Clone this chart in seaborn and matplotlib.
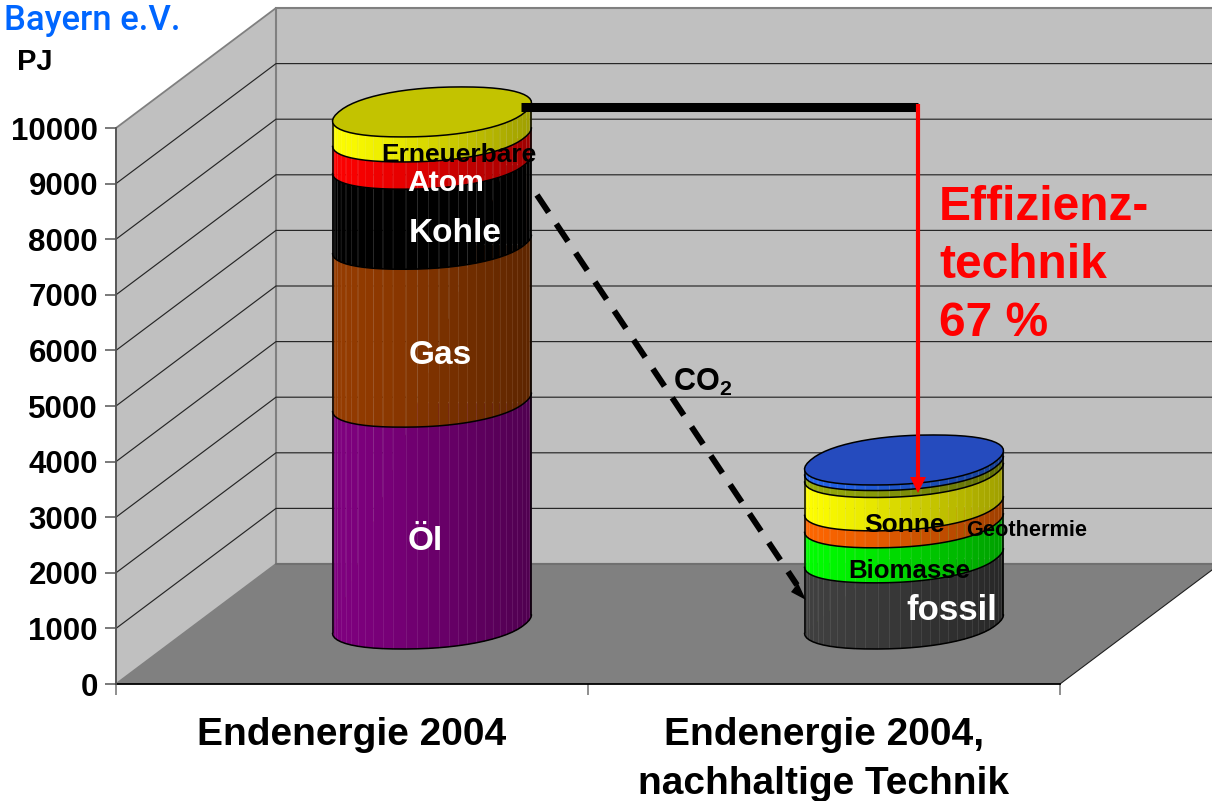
#!/usr/bin/env python3

from matplotlib import pyplot as plt
from matplotlib.colors import to_rgb
from matplotlib.patches import Polygon
import numpy as np
import pandas as pd
import seaborn as sns

# values (PJ)
categories = ["Endenergie 2004", "Endenergie 2004,\nnachhaltige Technik"]
layers_2004 = ["Öl", "Gas", "Kohle", "Atom", "Erneuerbare"]
values_2004 = [3990, 2840, 1440, 490, 450]
layers_eff = ["fossil", "Biomasse", "Geothermie", "Sonne", "Wind", "Wasser"]
values_eff = [1190, 630, 305, 600, 125, 100]
yticks = list(range(0, 11000, 1000))

colors_2004 = ["#800080", "#963C00", "#000000", "#FF0000", "#FFFF00"]
colors_eff = ["#404040", "#00FF00", "#FF6600", "#FFFF00", "#96AA0A", "#2464EB"]
top_2004 = "#C3C300"
top_eff = "#254BBE"

W, H = 1212, 801
PX_X = 472.0   # pixels per category
PX_Y = 0.0556  # pixels per PJ
DEPTH_X = 160 / PX_X
DEPTH_Y = 120 / PX_Y
HALF_W, HALF_H = 99.5, 25.0
SQUARE = 0.9   # <1 squares off the cylinder outline, like the original facets
N_FACETS = 30


def offsets(t):
    c, s = np.cos(t), np.sin(t)
    c = np.sign(c) * np.abs(c) ** SQUARE
    s = np.sign(s) * np.abs(s) ** SQUARE
    return 0.95 * c + 0.3 * s, s


_grid = np.linspace(0, 2 * np.pi, 2000)
_scale = np.abs(offsets(_grid)[0]).max()
T_LEFT = _grid[np.argmin(offsets(_grid)[0])]
T_RIGHT = _grid[np.argmax(offsets(_grid)[0])] + 2 * np.pi


def ring(t, cat, value):
    dx, dy = offsets(t)
    x = cat + DEPTH_X / 2 + dx / _scale * HALF_W / PX_X
    y = value + DEPTH_Y / 2 + dy * HALF_H / PX_Y
    return x, y


def shade(color, u):
    return np.array(to_rgb(color)) * np.interp(u, [0, 0.3, 1], [1.0, 0.92, 0.62])


def draw_cylinder(ax, cat, values, colors, top_color, bars):
    front = np.linspace(T_LEFT, T_RIGHT, N_FACETS + 1)
    full = np.linspace(0, 2 * np.pi, 2 * N_FACETS + 1)
    cum = np.concatenate([[0], np.cumsum(values)])

    bx, by = ring(front, cat, 0)
    top_x, top_y = ring(full, cat, cum[-1])
    outline = Polygon(
            np.r_[np.c_[bx, by], np.c_[top_x, top_y]],
            transform=ax.transData,
            )
    for bar in bars:
        bar.set_clip_path(outline)

    for i, color in enumerate(colors):
        for j in range(N_FACETS):
            t = front[j:j + 2]
            x0, y0 = ring(t, cat, cum[i])
            x1, y1 = ring(t[::-1], cat, cum[i + 1])
            u = (x0.mean() - bx[0]) / (bx[-1] - bx[0])
            ax.add_patch(Polygon(
                np.r_[np.c_[x0, y0], np.c_[x1, y1]],
                facecolor=shade(color, u),
                edgecolor=shade(color, u),
                lw=0.2, zorder=4, clip_on=False,
                ))
            ax.plot(
                    [x0[0], x1[1]], [y0[0], y1[1]],
                    color="white", alpha=0.1, lw=0.6, zorder=4.5,
                    clip_on=False,
                    )
        x0, y0 = ring(front, cat, cum[i])
        ax.plot(x0, y0, color="black", lw=1.1, zorder=5, clip_on=False)

    tx, ty = ring(front, cat, cum[-1])
    ax.plot(
            [bx[0], tx[0]], [by[0], ty[0]],
            color="black", lw=1.1, zorder=5, clip_on=False,
            )
    ax.plot(
            [bx[-1], tx[-1]], [by[-1], ty[-1]],
            color="black", lw=1.1, zorder=5, clip_on=False,
            )
    ax.add_patch(Polygon(
        np.c_[top_x, top_y], facecolor=top_color, edgecolor="black",
        lw=1.1, zorder=6, clip_on=False,
        ))


def main():
    sns.set_theme(style="white")
    plt.rcParams["font.family"] = ["Liberation Sans", "DejaVu Sans"]
    plt.rcParams["text.color"] = "black"
    plt.rcParams["mathtext.fontset"] = "custom"
    plt.rcParams["mathtext.bf"] = "Liberation Sans:bold"

    fig = plt.figure(figsize=(W / 100, H / 100), dpi=100)
    ax = fig.add_axes([116 / W, (H - 684) / H, 944 / W, 556 / H])
    ax.patch.set_alpha(0)

    # stacked base bars, tallest layer first
    rows = []
    pos = [DEPTH_X / 2, 1 + DEPTH_X / 2]
    for p, layers, values, colors in [
            (pos[0], layers_2004, values_2004, colors_2004),
            (pos[1], layers_eff, values_eff, colors_eff),
            ]:
        cum = np.cumsum(values)
        for layer, c, col in list(zip(layers, cum, colors))[::-1]:
            rows.append({
                "pos": p, "top": c + DEPTH_Y / 2,
                "layer": f"{p}-{layer}", "col": col,
                })
    df = pd.DataFrame(rows)
    sns.barplot(
            data=df, x="pos", y="top", hue="layer",
            hue_order=list(df["layer"]),
            palette=dict(zip(df["layer"], df["col"])),
            dodge=False, native_scale=True, width=199 / PX_X,
            legend=False, errorbar=None, ax=ax, saturation=1, zorder=3,
            )
    bars = [b for b in ax.patches]
    n_first = len(layers_2004)

    ax.set_xlim(-0.5, 1.5)
    ax.set_ylim(0, 10000)

    # walls and floor
    x0, x1 = -0.5, 1.5
    ax.add_patch(Polygon(
        [(x0, 0), (x0 + DEPTH_X, DEPTH_Y), (x0 + DEPTH_X, 10000 + DEPTH_Y), (x0, 10000)],
        facecolor="#C0C0C0", edgecolor="#808080", lw=1.3, zorder=0, clip_on=False,
        ))
    ax.add_patch(Polygon(
        [(x0 + DEPTH_X, DEPTH_Y), (x1 + DEPTH_X, DEPTH_Y),
         (x1 + DEPTH_X, 10000 + DEPTH_Y), (x0 + DEPTH_X, 10000 + DEPTH_Y)],
        facecolor="#C0C0C0", edgecolor="#808080", lw=1.5, zorder=0, clip_on=False,
        ))
    ax.add_patch(Polygon(
        [(x0, 0), (x1, 0), (x1 + DEPTH_X, DEPTH_Y), (x0 + DEPTH_X, DEPTH_Y)],
        facecolor="#808080", edgecolor="none", zorder=1, clip_on=False,
        ))
    ax.plot(
            [x1, x1 + DEPTH_X], [0, DEPTH_Y],
            color="#202020", lw=0.8, zorder=1.5, clip_on=False,
            )
    ax.plot(
            [x0 + DEPTH_X, x1 + DEPTH_X], [DEPTH_Y, DEPTH_Y],
            color="#707070", lw=1.5, zorder=1.5, clip_on=False,
            )
    for v in yticks[1:-1]:
        ax.plot(
                [x0, x0 + DEPTH_X, x1 + DEPTH_X],
                [v, v + DEPTH_Y, v + DEPTH_Y],
                color="#262626", lw=0.85, zorder=0.5, clip_on=False,
                )

    draw_cylinder(ax, 0, values_2004, colors_2004, top_2004, bars[:n_first])
    draw_cylinder(ax, 1, values_eff, colors_eff, top_eff, bars[n_first:])

    # axes
    sns.despine(ax=ax, top=True, right=True)
    ax.spines["left"].set(color="#555555", linewidth=1.3)
    ax.spines["bottom"].set(color="black", linewidth=1.3, zorder=2)
    ax.set_xlabel("")
    ax.set_ylabel("")
    ax.set_yticks(yticks)
    ax.tick_params(
            axis="y", left=True, length=8, width=1.1, color="#555555", pad=5,
            labelsize=22.5, labelcolor="black",
            )
    for label in ax.get_yticklabels():
        label.set_fontweight("bold")
    ax.set_xticks([-0.5, 0.5, 1.5], labels=[])
    ax.set_xticks([0, 1], labels=categories, minor=True)
    ax.tick_params(axis="x", which="major", bottom=True, length=8, width=1.1, color="#707070")
    ax.tick_params(
            axis="x", which="minor", bottom=False, length=0, pad=23.7,
            labelsize=28, labelcolor="black",
            )
    for label in ax.get_xticklabels(minor=True):
        label.set_fontweight("bold")
        label.set_linespacing(1.48)

    # overlay in picture pixels for labels and arrows
    ov = fig.add_axes([0, 0, 1, 1], zorder=10)
    ov.set_xlim(0, W)
    ov.set_ylim(H, 0)
    ov.axis("off")

    ov.text(
            4, 30, "Bayern e.V.", color="#0066FF", fontsize=25,
            family="Roboto", fontweight="medium", va="baseline",
            )
    ov.text(17, 62, "PJ", fontsize=21, fontweight="bold", va="center")

    labels = [
            ("Erneuerbare", 459, 155, 19, "black"),
            ("Atom", 446, 183, 21.7, "white"),
            ("Kohle", 455, 233, 24, "white"),
            ("Gas", 440, 355, 24, "white"),
            ("Öl", 425, 541, 24, "white"),
            ("Sonne", 905, 525, 19, "black"),
            ("Geothermie", 1027, 531, 15.7, "black"),
            ("Biomasse", 909, 571, 18.6, "black"),
            ("fossil", 952, 611, 25, "white"),
            ]
    for text, x, y, size, color in labels:
        ov.text(
                x, y, text, ha="center", va="center", fontsize=size,
                fontweight="bold", color=color,
                )

    for i, text in enumerate(["Effizienz-", "technik", "67 %"]):
        ov.text(
                939, 208 + 58 * i, text, color="#FF0000", fontsize=34.5,
                fontweight="bold", va="center",
                )
    ov.text(673, 382, r"$\mathbf{CO_2}$", fontsize=22, va="center")

    # arrows
    ov.plot([521, 918], [107, 107], color="black", lw=6.5, solid_capstyle="butt")
    ov.plot([918, 918], [104, 480], color="#FF0000", lw=3, solid_capstyle="butt")
    ov.add_patch(Polygon([(910, 477), (926, 477), (918, 493)], facecolor="#FF0000", edgecolor="none"))
    ov.plot(
            [537, 797], [195, 585], color="black", lw=4.3,
            dashes=(3.5, 2.33), dash_capstyle="butt",
            )
    ov.add_patch(Polygon([(791, 592), (798, 583), (806, 600)], facecolor="black", edgecolor="none"))

    plt.savefig("out.png", dpi=100)


if __name__ == "__main__":
    main()
